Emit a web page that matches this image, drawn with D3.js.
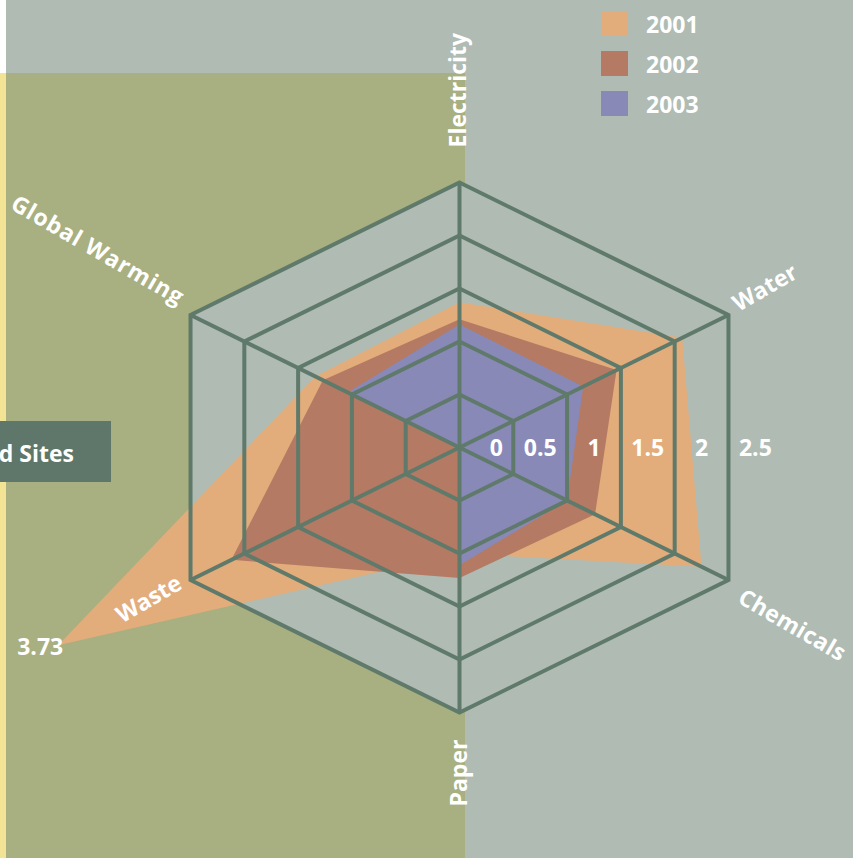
<!DOCTYPE html>
<html>
<head>
<meta charset="utf-8">
<script src="https://cdn.jsdelivr.net/npm/d3@7"></script>
<style>
  html, body { margin: 0; padding: 0; background: #afbbb3; }
  svg { display: block; }
  text { font-family: "Open Sans", "Noto Sans", sans-serif; font-weight: 700; fill: #fff; }
</style>
</head>
<body>
<div id="chart"></div>
<script>
// categories, clockwise from top
const categories = ["Electricity", "Water", "Chemicals", "Paper", "Waste", "Global Warming"];
const years = ["2001", "2002", "2003"];
const v2001 = [1.37, 2.07, 2.25, 1.0, 3.73, 1.34];
const v2002 = [1.21, 1.46, 1.26, 1.23, 2.12, 1.27];
const v2003 = [1.16, 1.15, 1.0, 1.11, 0, 1.04];
const ringTicks = [0.5, 1, 1.5, 2, 2.5];
const tickLabels = ["0", "0.5", "1", "1.5", "2", "2.5"];
const peakLabel = "3.73";
const boxLabel = "d Sites";

const colors = ["#e2ad7b", "#b57a63", "#8889b6"];
const gridColor = "#5f7a6b";

const W = 853, H = 858;
const cx = 459.5, cy = 447.5;
const sx = 1.172; // hexagon is stretched sideways

const svg = d3.select("#chart").append("svg")
  .attr("width", W).attr("height", H);

const r = d3.scaleLinear().domain([0, 2.5]).range([0, 265]);
const angle = d3.scalePoint().domain(d3.range(categories.length)).range([0, 300]);

function pt(i, v) {
  const a = angle(i) * Math.PI / 180;
  return [cx + sx * r(v) * Math.sin(a), cy - r(v) * Math.cos(a)];
}

// backdrop panels
svg.append("rect").attr("x", 0).attr("y", 0).attr("width", W).attr("height", H).attr("fill", "#afbbb3");
svg.append("rect").attr("x", 0).attr("y", 0).attr("width", 6).attr("height", 73).attr("fill", "#ffffff");
svg.append("rect").attr("x", 0).attr("y", 73).attr("width", 6).attr("height", H - 73).attr("fill", "#f3e495");
svg.append("rect").attr("x", 6).attr("y", 73).attr("width", 459).attr("height", H - 73).attr("fill", "#a8af80");

// box with clipped title
svg.append("rect").attr("x", 0).attr("y", 421).attr("width", 111).attr("height", 61).attr("fill", "#5e776a");
svg.append("text").attr("x", 74).attr("y", 462).attr("text-anchor", "end")
  .attr("font-size", 23).text(boxLabel);

const line = d3.line();
const hex = v => categories.map((c, i) => pt(i, v));

// hexagon face
svg.append("path").attr("d", line(hex(2.5)) + "Z").attr("fill", "#afbbb3");

// series areas
[v2001, v2002, v2003].forEach((vals, k) => {
  svg.append("path")
    .attr("d", line(vals.map((v, i) => pt(i, v))) + "Z")
    .attr("fill", colors[k]);
});

// grid
const grid = svg.append("g").attr("fill", "none").attr("stroke", gridColor)
  .attr("stroke-width", 4).attr("stroke-linejoin", "miter");
ringTicks.forEach(t => grid.append("path").attr("d", line(hex(t)) + "Z"));
categories.forEach((c, i) => grid.append("path").attr("d", line([pt(i, 0), pt(i, 2.5)])));

// scale labels
svg.append("g").selectAll("text").data(tickLabels).join("text")
  .attr("x", (d, i) => pt(1, i * 0.5 + 0.25)[0] + (i === 0 ? 10 : 0))
  .attr("y", 456)
  .attr("text-anchor", "middle")
  .attr("font-size", 23)
  .text(d => d);

// axis labels
const outer = categories.map((c, i) => pt(i, 2.5));
const labelPos = [
  { dx: 6, dy: -35, rot: -90, anchor: "start", ls: 0 },
  { dx: 10, dy: -3, rot: -30, anchor: "start", ls: 0 },
  { dx: 8, dy: 22, rot: 30, anchor: "start", ls: 0.3 },
  { dx: 7, dy: 94, rot: -90, anchor: "start", ls: 0 },
  { dx: -7, dy: 8, rot: -30, anchor: "end", ls: 0 },
  { dx: -12, dy: -9, rot: 30, anchor: "end", ls: 0.85 }
];
svg.append("g").selectAll("text").data(categories).join("text")
  .attr("transform", (d, i) => `translate(${outer[i][0] + labelPos[i].dx},${outer[i][1] + labelPos[i].dy}) rotate(${labelPos[i].rot})`)
  .attr("text-anchor", (d, i) => labelPos[i].anchor)
  .attr("letter-spacing", (d, i) => labelPos[i].ls)
  .attr("font-size", 23)
  .text(d => d);

// value of the waste spike
const tip = pt(4, v2001[4]);
svg.append("text").attr("x", tip[0] + 5).attr("y", tip[1] + 10)
  .attr("text-anchor", "end").attr("font-size", 23).text(peakLabel);

// legend
const legend = svg.append("g").selectAll("g").data(years).join("g")
  .attr("transform", (d, i) => `translate(601,${11 + i * 40})`);
legend.append("rect").attr("width", 27).attr("height", 25).attr("fill", (d, i) => colors[i]);
legend.append("text").attr("x", 45).attr("y", 22).attr("font-size", 23).text(d => d);
</script>
</body>
</html>
